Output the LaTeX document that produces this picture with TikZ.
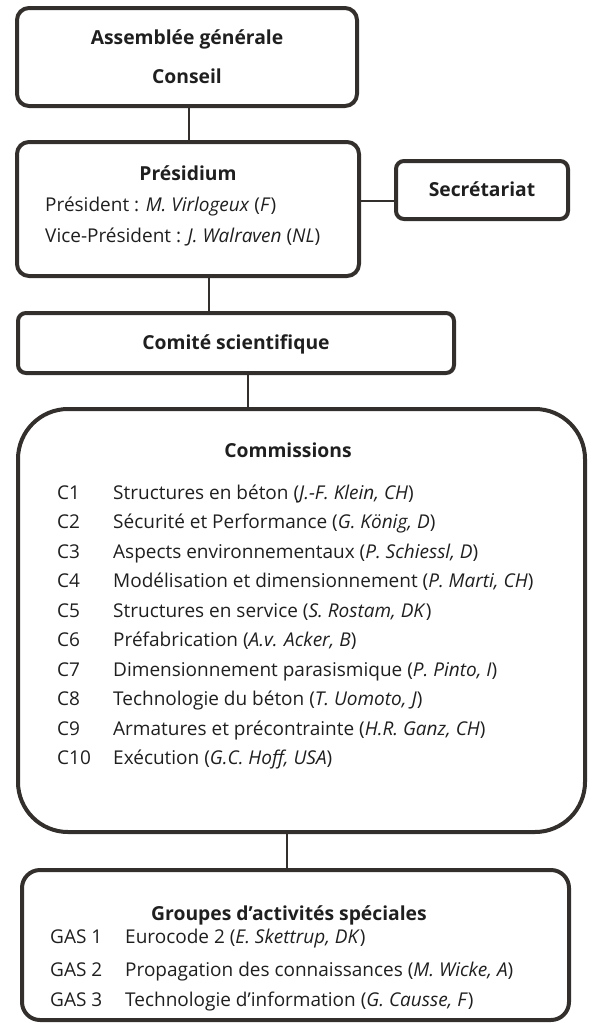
\documentclass[tikz,border=0pt]{standalone}
\usepackage{fontspec}
\setmainfont{Open Sans}
\usetikzlibrary{positioning}
\definecolor{frame}{HTML}{332F2C}
\definecolor{ink}{HTML}{1F1F1F}
\newcommand\headsize{\fontsize{19.3}{23}\selectfont}
\newcommand\bodysize{\fontsize{19}{23}\selectfont}
\tikzset{
  box/.style={draw=frame, line width=4pt, rounded corners=#1, inner sep=0pt},
  box/.default=10pt,
  link/.style={draw=frame, line width=2pt},
  head/.style={font=\bfseries\headsize, text=ink, anchor=base, inner sep=0pt},
  item/.style={font=\bodysize, text=ink, anchor=base west, inner sep=0pt},
}
\begin{document}
\begin{tikzpicture}[x=1pt, y=-1pt]
  \useasboundingbox (0,0) rectangle (592,1023);
  % boxes
  \node[box=12pt, minimum width=340pt, minimum height=98pt]  (ag)   at (187,57)    {};
  \node[box=12pt, minimum width=342pt, minimum height=134pt] (pres) at (188,209)   {};
  \node[box=8pt,  minimum width=172pt, minimum height=58pt]  (secr) at (482,190)   {};
  \node[box=8pt,  minimum width=436pt, minimum height=60pt]  (cs)   at (236,343)   {};
  \node[box=50pt, minimum width=567pt, minimum height=423pt] (comm) at (301.5,620.5) {};
  \node[box=18pt, minimum width=547pt, minimum height=150pt] (gas)  at (295.5,945) {};
  % connectors
  \draw[link] ([xshift=2pt]ag.south) -- ([xshift=2pt]ag.south |- pres.north);
  \draw[link] ([yshift=-11pt]secr.west) -- ([yshift=-11pt]secr.west -| pres.east);
  \draw[link] ([xshift=21pt]pres.south) -- ([xshift=21pt]pres.south |- cs.north);
  \draw[link] ([xshift=12pt]cs.south) -- ([xshift=12pt]cs.south |- comm.north);
  \draw[link] ([xshift=-14.5pt]comm.south) -- ([xshift=-14.5pt]comm.south |- gas.north);
  % texts of the upper boxes
  \node[head] (agt)   at (187,44)  {Assemblée générale};
  \node[head] (cons)  at (187,83)  {Conseil};
  \node[head] (prest) at (188,180) {Présidium};
  \node[item] (pr)    at (45,211)  {Président : \textit{M. Virlogeux} (\textit{F})};
  \node[item] (vpr)   at (45,242)  {Vice-Président : \textit{J. Walraven} (\textit{NL})};
  \node[head] (secrt) at (482,196) {Secrétariat};
  \node[head] (cst)   at (236,349) {Comité scientifique};
  % commissions
  \node[head] (commt) at (288,457) {Commissions};
  \node[item] (c1)  at (57,499)   {C1};
  \node[item] (c1t) at (113,499)  {Structures en béton (\textit{J.-F. Klein, CH})};
  \node[item] (c2)  at (57,528.5) {C2};
  \node[item] (c2t) at (113,528.5) {Sécurité et Performance (\textit{G. König, D})};
  \node[item] (c3)  at (57,558)   {C3};
  \node[item] (c3t) at (113,558)  {Aspects environnementaux (\textit{P. Schiessl, D})};
  \node[item] (c4)  at (57,587.5) {C4};
  \node[item] (c4t) at (113,587.5) {Modélisation et dimensionnement (\textit{P. Marti, CH})};
  \node[item] (c5)  at (57,617)   {C5};
  \node[item] (c5t) at (113,617)  {Structures en service (\textit{S. Rostam, DK})};
  \node[item] (c6)  at (57,646.5) {C6};
  \node[item] (c6t) at (113,646.5) {Préfabrication (\textit{A.v. Acker, B})};
  \node[item] (c7)  at (57,676)   {C7};
  \node[item] (c7t) at (113,676)  {Dimensionnement parasismique (\textit{P. Pinto, I})};
  \node[item] (c8)  at (57,705.5) {C8};
  \node[item] (c8t) at (113,705.5) {Technologie du béton (\textit{T. Uomoto, J})};
  \node[item] (c9)  at (57,735)   {C9};
  \node[item] (c9t) at (113,735)  {Armatures et précontrainte (\textit{H.R. Ganz, CH})};
  \node[item] (c10)  at (57,764.5) {C10};
  \node[item] (c10t) at (113,764.5) {Exécution (\textit{G.C. Hoff, USA})};
  % special activity groups
  \node[head] (gast) at (289,920) {Groupes d’activités spéciales};
  \node[item] (g1)  at (50,943)    {GAS 1};
  \node[item] (g1t) at (125,943)   {Eurocode 2 (\textit{E. Skettrup, DK})};
  \node[item] (g2)  at (50,976.5)  {GAS 2};
  \node[item] (g2t) at (125,976.5) {Propagation des connaissances (\textit{M. Wicke, A})};
  \node[item] (g3)  at (50,1006.5) {GAS 3};
  \node[item] (g3t) at (125,1006.5) {Technologie d’information (\textit{G. Causse, F})};
\end{tikzpicture}
\end{document}
